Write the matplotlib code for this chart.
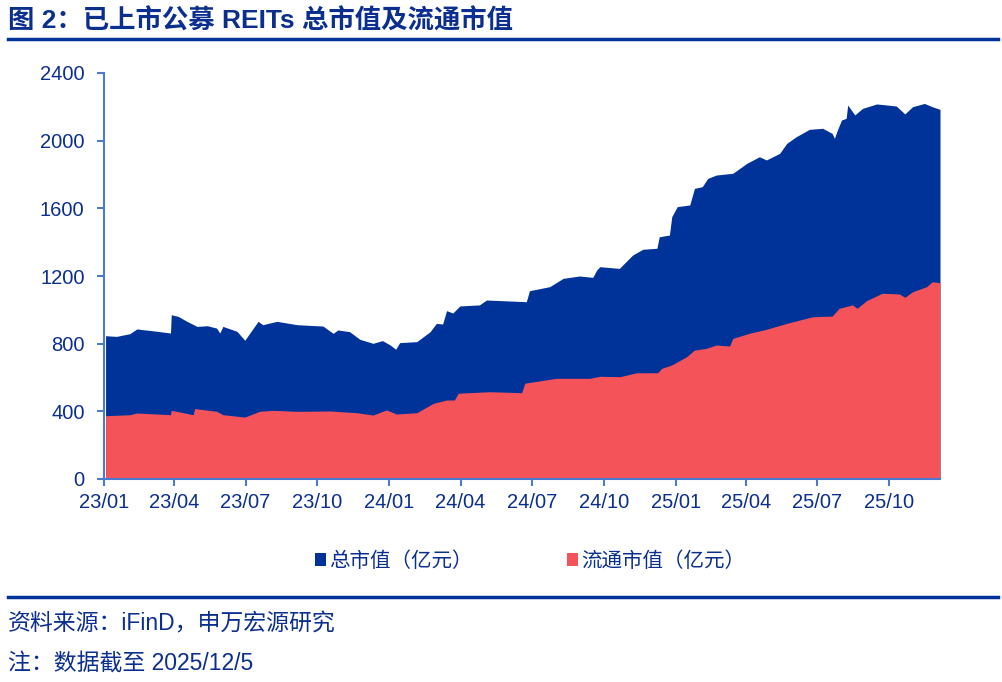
import numpy as np
import pandas as pd
import matplotlib
matplotlib.use("Agg")
import matplotlib.pyplot as plt
import matplotlib.dates as mdates
from matplotlib.lines import Line2D
from matplotlib.patches import Patch

# ── Data (亿元) ───────────────────────────────────────────────────────────────
TOTAL_DATES = [
    "2023-01-03", "2023-01-17", "2023-02-03", "2023-02-12", "2023-03-10", "2023-03-27",
    "2023-03-28", "2023-04-06", "2023-04-17", "2023-04-30", "2023-05-13", "2023-05-25",
    "2023-05-29", "2023-06-02", "2023-06-20", "2023-06-30", "2023-07-17", "2023-07-23",
    "2023-08-10", "2023-09-05", "2023-09-30", "2023-10-08", "2023-10-21", "2023-10-27",
    "2023-11-11", "2023-11-24", "2023-12-11", "2023-12-23", "2024-01-02", "2024-01-09",
    "2024-01-14", "2024-02-05", "2024-02-22", "2024-03-01", "2024-03-09", "2024-03-14",
    "2024-03-22", "2024-03-31", "2024-04-25", "2024-05-04", "2024-05-25", "2024-06-24",
    "2024-06-28", "2024-07-24", "2024-08-10", "2024-08-31", "2024-09-17", "2024-09-22",
    "2024-09-26", "2024-10-21", "2024-11-07", "2024-11-20", "2024-12-08", "2024-12-11",
    "2024-12-24", "2024-12-27", "2025-01-03", "2025-01-19", "2025-01-25", "2025-02-04",
    "2025-02-11", "2025-02-22", "2025-03-15", "2025-04-02", "2025-04-18", "2025-04-27",
    "2025-05-14", "2025-05-23", "2025-06-04", "2025-06-21", "2025-07-08", "2025-07-20",
    "2025-07-23", "2025-07-26", "2025-08-01", "2025-08-07", "2025-08-09", "2025-08-18",
    "2025-08-28", "2025-09-15", "2025-10-10", "2025-10-21", "2025-10-31", "2025-11-15",
    "2025-11-25", "2025-12-05",
]
TOTAL_VALS = [
    847, 843, 859, 887, 873, 863,
    971, 961, 932, 902, 906, 892,
    863, 902, 873, 820, 932, 912,
    932, 912, 906, 904, 861, 881,
    871, 826, 802, 818, 792, 767,
    806, 812, 871, 920, 916, 995,
    981, 1023, 1029, 1058, 1054, 1048,
    1113, 1137, 1186, 1200, 1192, 1235,
    1255, 1245, 1324, 1358, 1364, 1432,
    1442, 1551, 1610, 1620, 1718, 1728,
    1777, 1797, 1807, 1866, 1905, 1886,
    1925, 1984, 2023, 2067, 2073, 2043,
    2014, 2053, 2122, 2132, 2211, 2152,
    2191, 2217, 2205, 2158, 2201, 2220,
    2201, 2185,
]

FLOAT_DATES = [
    "2023-01-03", "2023-02-03", "2023-02-12", "2023-03-27", "2023-03-28", "2023-04-25",
    "2023-04-27", "2023-05-25", "2023-06-02", "2023-06-30", "2023-07-19", "2023-08-05",
    "2023-09-05", "2023-10-17", "2023-11-20", "2023-12-11", "2023-12-28", "2024-01-10",
    "2024-02-05", "2024-02-26", "2024-03-14", "2024-03-24", "2024-03-29", "2024-05-08",
    "2024-06-18", "2024-06-22", "2024-08-01", "2024-09-13", "2024-09-26", "2024-10-22",
    "2024-11-12", "2024-12-09", "2024-12-14", "2024-12-27", "2025-01-15", "2025-01-25",
    "2025-02-09", "2025-02-22", "2025-03-11", "2025-03-15", "2025-04-05", "2025-04-27",
    "2025-05-23", "2025-06-25", "2025-07-20", "2025-07-29", "2025-08-15", "2025-08-21",
    "2025-09-02", "2025-09-22", "2025-10-14", "2025-10-21", "2025-10-31", "2025-11-18",
    "2025-11-25", "2025-12-05",
]
FLOAT_VALS = [
    374, 380, 390, 380, 406, 380,
    416, 400, 380, 366, 400, 406,
    400, 402, 392, 378, 408, 384,
    392, 447, 467, 467, 507, 516,
    510, 566, 595, 595, 607, 605,
    628, 628, 654, 674, 723, 762,
    772, 792, 786, 831, 861, 885,
    920, 959, 963, 1009, 1029, 1009,
    1054, 1098, 1094, 1074, 1107, 1137,
    1166, 1160,
]

TITLE    = "图 2：已上市公募 REITs 总市值及流通市值"
LABELS   = ["总市值（亿元）", "流通市值（亿元）"]
SOURCE   = "资料来源：iFinD，申万宏源研究"
NOTE     = "注：数据截至 2025/12/5"

# ── Style ─────────────────────────────────────────────────────────────────────
BLUE   = "#003399"
RED    = "#F5535A"
NAVY   = "#0B2F8F"
AXIS   = "#4A7BD0"
FONTS  = ["Liberation Sans", "Noto Sans CJK SC", "DejaVu Sans"]

plt.rcParams["font.family"] = FONTS


def plot_chart():
    total_d = pd.to_datetime(TOTAL_DATES)
    float_d = pd.to_datetime(FLOAT_DATES)

    fig = plt.figure(figsize=(10.02, 6.82), dpi=100)
    ax = fig.add_axes([104 / 1002, 1 - 479 / 682, 836 / 1002, (479 - 73) / 682])

    ax.fill_between(total_d, TOTAL_VALS, color=BLUE, linewidth=0)
    ax.fill_between(float_d, FLOAT_VALS, color=RED, linewidth=0)

    ax.set_ylim(0, 2400)
    ax.set_yticks(np.arange(0, 2401, 400))
    ax.set_xlim(pd.Timestamp("2023-01-01"), pd.Timestamp("2025-12-05"))
    ax.set_xticks(pd.date_range("2023-01-01", "2025-10-01", freq="3MS"))
    ax.xaxis.set_major_formatter(mdates.DateFormatter("%y/%m"))

    for side in ["top", "right"]:
        ax.spines[side].set_visible(False)
    for side in ["left", "bottom"]:
        ax.spines[side].set_color(AXIS)
        ax.spines[side].set_linewidth(1.5)
    ax.tick_params(axis="both", colors=AXIS, labelcolor=NAVY, labelsize=14.5,
                   length=5, width=1.5, direction="out")
    ax.tick_params(axis="y", pad=9)
    ax.tick_params(axis="x", pad=5)

    # Title and rules
    fig.text(8 / 1002, 1 - 21 / 682, TITLE, fontsize=19, fontweight="bold",
             color=NAVY, ha="left", va="center")
    fig.add_artist(Line2D([8 / 1002, 998 / 1002], [1 - 39 / 682] * 2,
                          transform=fig.transFigure, color=BLUE, linewidth=2.5))
    fig.add_artist(Line2D([8 / 1002, 998 / 1002], [1 - 597 / 682] * 2,
                          transform=fig.transFigure, color=BLUE, linewidth=2.5))

    handles = [Patch(facecolor=BLUE, edgecolor="none"),
               Patch(facecolor=RED, edgecolor="none")]
    leg = fig.legend(handles, LABELS, loc="center", bbox_to_anchor=(530 / 1002, 1 - 561 / 682),
                     ncol=2, frameon=False, fontsize=14.8, handlelength=0.55, handleheight=0.55,
                     handletextpad=0.15, columnspacing=4.6)
    for t in leg.get_texts():
        t.set_color(NAVY)

    fig.text(8 / 1002, 1 - 624 / 682, SOURCE, fontsize=16.5, color=NAVY,
             ha="left", va="center")
    fig.text(8 / 1002, 1 - 663 / 682, NOTE, fontsize=16.5, color=NAVY,
             ha="left", va="center")

    fig.savefig("out.png", dpi=100)


if __name__ == "__main__":
    plot_chart()
